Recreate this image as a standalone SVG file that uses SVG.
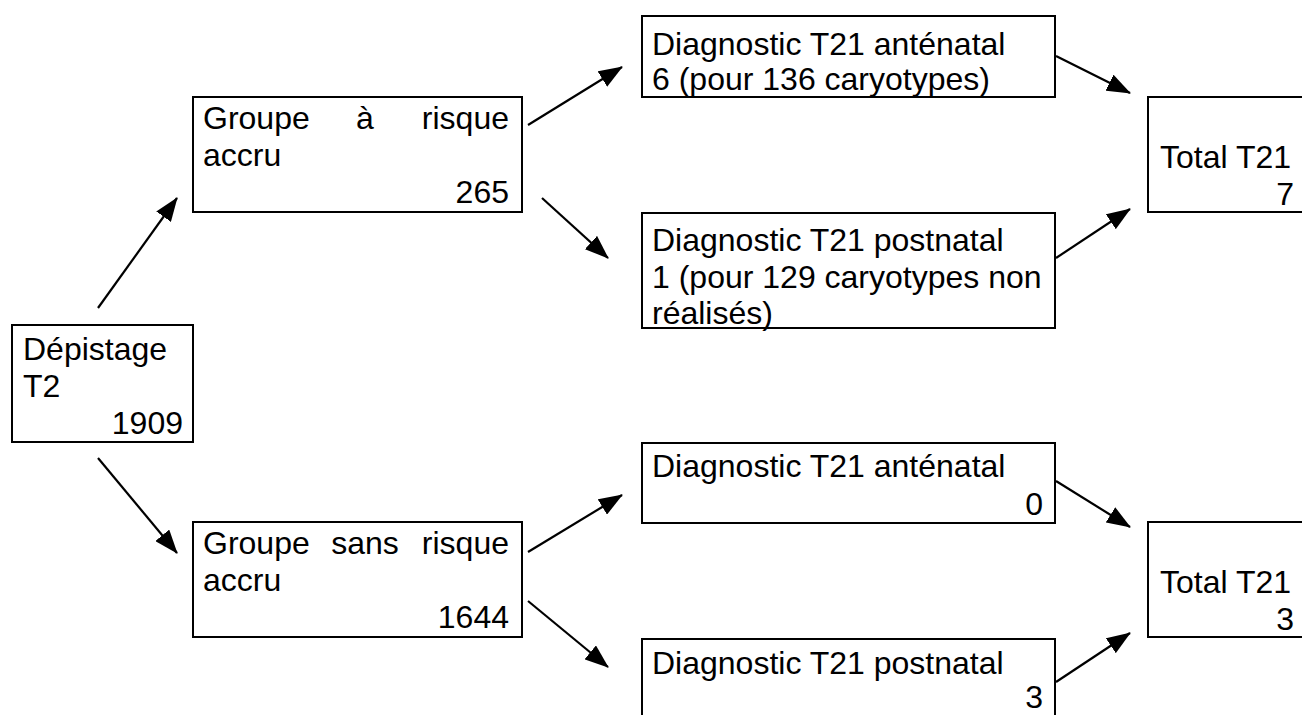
<svg xmlns="http://www.w3.org/2000/svg" width="1302" height="715" viewBox="0 0 1302 715">
<style>
  .box { fill: #ffffff; stroke: #000000; stroke-width: 2; }
  .t { font-family: "Liberation Sans", Arial, sans-serif; font-size: 32px; fill: #000000; }
  .r { text-anchor: end; }
  .m { text-anchor: middle; }
  .arr { stroke: #000000; stroke-width: 2.2; fill: none; marker-end: url(#ah); }
</style>
<defs>
  <marker id="ah" markerUnits="userSpaceOnUse" markerWidth="24" markerHeight="18" refX="23" refY="9" orient="auto">
    <path d="M0,0 L24,9 L0,18 z" fill="#000000"/>
  </marker>
</defs>
<rect x="0" y="0" width="1302" height="715" fill="#ffffff"/>

<g id="depistage">
  <rect class="box" x="12" y="325" width="181" height="117"/>
  <text class="t" x="23" y="360">Dépistage</text>
  <text class="t" x="23" y="397">T2</text>
  <text class="t r" x="183" y="434">1909</text>
</g>

<g id="groupe-risque">
  <rect class="box" x="193" y="97" width="329" height="115"/>
  <text class="t" x="203" y="129">Groupe</text>
  <text class="t m" x="365" y="129">à</text>
  <text class="t r" x="509" y="129">risque</text>
  <text class="t" x="203" y="166">accru</text>
  <text class="t r" x="509" y="203">265</text>
</g>

<g id="groupe-sans-risque">
  <rect class="box" x="193" y="522" width="329" height="115"/>
  <text class="t" x="203" y="554">Groupe</text>
  <text class="t m" x="365" y="554">sans</text>
  <text class="t r" x="509" y="554">risque</text>
  <text class="t" x="203" y="591">accru</text>
  <text class="t r" x="509" y="628">1644</text>
</g>

<g id="antenatal-haut">
  <rect class="box" x="642" y="16" width="413" height="81"/>
  <text class="t" x="652" y="55">Diagnostic T21 anténatal</text>
  <text class="t" x="652" y="90">6 (pour 136 caryotypes)</text>
</g>

<g id="postnatal-haut">
  <rect class="box" x="642" y="213" width="413" height="115"/>
  <text class="t" x="652" y="251">Diagnostic T21 postnatal</text>
  <text class="t" x="652" y="288">1 (pour 129 caryotypes non</text>
  <text class="t" x="652" y="324">réalisés)</text>
</g>

<g id="total-haut">
  <rect class="box" x="1148" y="97" width="170" height="115"/>
  <text class="t" x="1160" y="168">Total T21</text>
  <text class="t r" x="1294" y="205">7</text>
</g>

<g id="antenatal-bas">
  <rect class="box" x="642" y="443" width="413" height="80"/>
  <text class="t" x="652" y="477">Diagnostic T21 anténatal</text>
  <text class="t r" x="1043" y="515">0</text>
</g>

<g id="postnatal-bas">
  <rect class="box" x="642" y="639" width="413" height="110"/>
  <text class="t" x="652" y="674">Diagnostic T21 postnatal</text>
  <text class="t r" x="1043" y="708">3</text>
</g>

<g id="total-bas">
  <rect class="box" x="1148" y="522" width="170" height="115"/>
  <text class="t" x="1160" y="593">Total T21</text>
  <text class="t r" x="1294" y="630">3</text>
</g>

<g id="connectors">
  <line class="arr" x1="98" y1="308" x2="177" y2="198"/>
  <line class="arr" x1="98" y1="458" x2="177" y2="553"/>
  <line class="arr" x1="528" y1="125" x2="622" y2="67"/>
  <line class="arr" x1="542" y1="198" x2="608" y2="258"/>
  <line class="arr" x1="528" y1="552" x2="622" y2="495"/>
  <line class="arr" x1="528" y1="601" x2="608" y2="667"/>
  <line class="arr" x1="1056" y1="56" x2="1130" y2="93"/>
  <line class="arr" x1="1056" y1="258" x2="1130" y2="209"/>
  <line class="arr" x1="1056" y1="481" x2="1130" y2="527"/>
  <line class="arr" x1="1056" y1="682" x2="1130" y2="633"/>
</g>
</svg>
